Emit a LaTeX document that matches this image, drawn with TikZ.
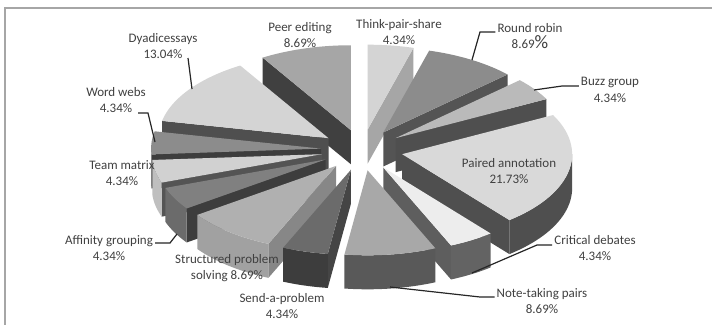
\documentclass[tikz,border=0pt]{standalone}
\usepackage{fontspec}
\setmainfont{Carlito}
\usetikzlibrary{calc}

% pie geometry (pixels)
\def\cx{362}\def\cy{150}\def\R{170}\def\kk{0.5}\def\dd{41}\def\hh{34}

% one exploded slice: start, end, top colour, cut colour, rim colour, name
\newcommand\pieslice[6]{%
  \pgfmathsetmacro\bis{(#1+#2)/2}
  \pgfmathsetmacro\tx{\cx+\dd*sin(\bis)}
  \pgfmathsetmacro\ty{\cy-\dd*\kk*cos(\bis)}
  \coordinate (#6) at (\tx,\ty);
  % cut faces
  \pgfmathtruncatemacro\vis{sin(#1) < -0.001 ? 1 : 0}
  \ifnum\vis=1
    \fill[#4] (\tx,\ty) -- ++({\R*sin(#1)},{-\R*\kk*cos(#1)}) -- ++(0,\hh)
      -- ++({-\R*sin(#1)},{\R*\kk*cos(#1)}) -- cycle;
  \fi
  \pgfmathtruncatemacro\vis{sin(#2) > 0.001 ? 1 : 0}
  \ifnum\vis=1
    \fill[#4] (\tx,\ty) -- ++({\R*sin(#2)},{-\R*\kk*cos(#2)}) -- ++(0,\hh)
      -- ++({-\R*sin(#2)},{\R*\kk*cos(#2)}) -- cycle;
  \fi
  % rim
  \pgfmathsetmacro\lo{max(#1,90)}
  \pgfmathsetmacro\hi{min(#2,270)}
  \pgfmathtruncatemacro\vis{\hi > \lo ? 1 : 0}
  \ifnum\vis=1
    \fill[#5] plot[variable=\t,domain=\lo:\hi,samples=25] ({\tx+\R*sin(\t)},{\ty-\R*\kk*cos(\t)})
      -- plot[variable=\t,domain=\hi:\lo,samples=25] ({\tx+\R*sin(\t)},{\ty+\hh-\R*\kk*cos(\t)}) -- cycle;
  \fi
  % top
  \fill[#3] (\tx,\ty) -- plot[variable=\t,domain=#1:#2,samples=30] ({\tx+\R*sin(\t)},{\ty-\R*\kk*cos(\t)}) -- cycle;
}

\tikzset{
  lab/.style={align=center,text=black!75,font=\fontsize{13}{16.5}\selectfont,inner sep=2pt},
  leader/.style={black!85,line width=1.2pt},
  frame/.style={black!35,line width=1.5pt}
}

\begin{document}
\begin{tikzpicture}[x=1pt,y=-1pt]
\useasboundingbox (0,0) rectangle (712,324);
\clip (0,0) rectangle (712,324);
\fill[white] (0,0) rectangle (712,324);
\draw[frame] (5,8) rectangle (740,350);

% slices, back to front
\foreach \a/\b/\ctop/\ccut/\crim/\nm in {
    0/15.65/black!17/black!35/black!35/tps,
    328.70/360/black!35/black!75/black!60/pe,
    15.65/46.96/black!45/black!67/black!67/rr,
    46.96/62.61/black!27/black!69/black!69/bg,
    281.74/328.70/black!17/black!69/black!60/de,
    266.09/281.74/black!45/black!76/black!61/ww,
    62.61/140.87/black!15/black!69/black!69/pa,
    250.43/266.09/black!18/black!67/black!25/tm,
    234.78/250.43/black!50/black!76/black!58/ag,
    203.48/234.78/black!31/black!47/black!37/sps,
    140.87/156.52/black!7/black!63/black!61/cd,
    187.83/203.48/black!58/black!73/black!76/sap,
    156.52/187.83/black!34/black!65/black!65/ntp}
  {\pieslice{\a}{\b}{\ctop}{\ccut}{\crim}{\nm}}

% labels
\node[lab] (tps-lab) at (399,32) {Think-pair-share\\4.34\%};
\node[lab] (rr-lab) at (530,36) {Round robin\\8.69{\fontsize{19}{19}\selectfont\%}};
\node[lab] (bg-lab) at (610,90) {Buzz group\\4.34\%};
\node[lab] (pa-lab) at (509,171) {Paired annotation\\21.73\%};
\node[lab] (cd-lab) at (595,248) {Critical debates\\4.34\%};
\node[lab] (ntp-lab) at (542,301) {Note-taking pairs\\8.69\%};
\node[lab] (sap-lab) at (282,306) {Send-a-problem\\4.34\%};
\node[lab] (sps-lab) at (227,268) {Structured problem\\solving 8.69\%};
\node[lab] (ag-lab) at (109,248) {Affinity grouping\\4.34\%};
\node[lab] (tm-lab) at (122,173) {Team matrix\\4.34\%};
\node[lab] (ww-lab) at (116,100) {Word webs\\4.34\%};
\node[lab] (de-lab) at (163,46) {Dyadicessays\\13.04\%};
\node[lab] (pe-lab) at (300,35) {Peer editing\\8.69\%};

% leader lines
\coordinate (rr-pt) at (472,60);   \coordinate (rr-bend) at (480,32);
\coordinate (bg-pt) at (534,90);   \coordinate (bg-bend) at (562,86);
\coordinate (cd-pt) at (472,273);  \coordinate (cd-bend) at (537,245);
\coordinate (ntp-pt) at (390,287); \coordinate (ntp-bend) at (480,297);
\coordinate (ag-pt) at (177,234);  \coordinate (ag-bend) at (170,243);
\coordinate (ww-pt) at (155,142);  \coordinate (ww-bend) at (148,113);
\coordinate (ww-end) at (138,113);
\coordinate (de-pt) at (192,89);   \coordinate (de-end) at (188,58);
\draw[leader] (rr-pt) -- (rr-bend) -- (rr-bend -| rr-lab.west);
\draw[leader] (bg-pt) -- (bg-bend) -- (bg-bend -| bg-lab.west);
\draw[leader] (cd-pt) -- (cd-bend) -- (cd-bend -| cd-lab.west);
\draw[leader] (ntp-pt) -- (ntp-bend) -- (ntp-bend -| ntp-lab.west);
\draw[leader] (ag-pt) -- (ag-bend) -- (ag-bend -| ag-lab.east);
\draw[leader] (ww-pt) -- (ww-bend) -- (ww-end);
\draw[leader] (de-pt) -- (de-end);
\end{tikzpicture}
\end{document}
